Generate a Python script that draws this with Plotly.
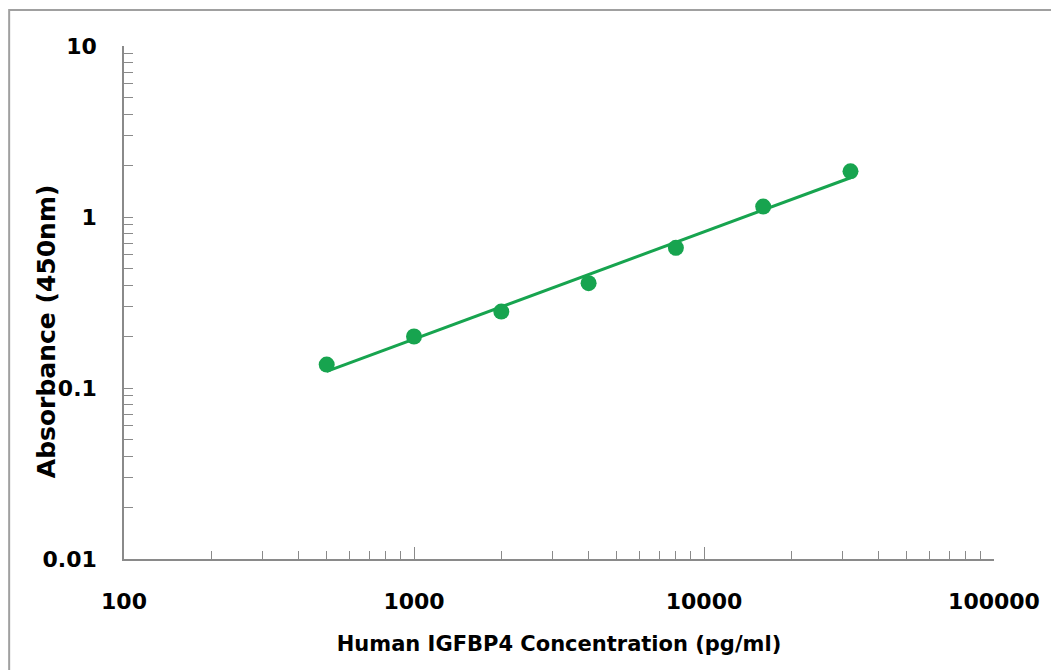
import numpy as np
import plotly.graph_objects as go

conc = [500, 1000, 2000, 4000, 8000, 16000, 32000]
absorb = [0.137, 0.200, 0.280, 0.410, 0.660, 1.150, 1.850]

x_title = "Human IGFBP4 Concentration (pg/ml)"
y_title = "Absorbance (450nm)"
x_ticks = [100, 1000, 10000, 100000]
x_ticklabels = ["100", "1000", "10000", "100000"]
y_ticks = [0.01, 0.1, 1, 10]
y_ticklabels = ["0.01", "0.1", "1", "10"]
minor_mult = [2, 3, 4, 5, 6, 7, 8, 9]
x_minor = [d * m for d in [100, 1000, 10000] for m in minor_mult]
y_minor = [d * m for d in [0.01, 0.1, 1] for m in minor_mult]

green = "#17A44F"
axis_gray = "#8A8A8A"
font_family = "DejaVu Sans"

# power-law (log-log linear) trend line fitted to the data
lx = np.log10(conc)
ly = np.log10(absorb)
slope, intercept = np.polyfit(lx, ly, 1)
fit_x = np.array([conc[0], conc[-1]])
fit_y = 10 ** (intercept + slope * np.log10(fit_x))

fig = go.Figure()
fig.add_trace(go.Scatter(x=fit_x, y=fit_y, mode="lines",
                         line=dict(color=green, width=3), showlegend=False))
fig.add_trace(go.Scatter(x=conc, y=absorb, mode="markers",
                         marker=dict(color=green, size=16), showlegend=False))

tickfont = dict(family=font_family, size=22, color="black", weight="bold")

fig.update_layout(
    width=1059, height=670,
    margin=dict(l=116, r=73, t=38, b=119, autoexpand=False),
    paper_bgcolor="white", plot_bgcolor="white",
    xaxis=dict(type="log", range=[2, 5], tickvals=x_ticks, ticktext=x_ticklabels,
               showgrid=False, zeroline=False, showline=True, linecolor=axis_gray, linewidth=1.5,
               ticks="inside", ticklen=12, tickcolor=axis_gray, tickwidth=1.2,
               ticklabelstandoff=22,
               minor=dict(tickmode="array", tickvals=x_minor, ticks="inside", ticklen=8,
                          tickcolor=axis_gray, tickwidth=1, showgrid=False),
               tickfont=tickfont,
               title=dict(text=x_title, font=dict(family=font_family, size=21, color="black", weight="bold"),
                          standoff=23)),
    yaxis=dict(type="log", range=[-2, 1], tickvals=y_ticks, ticktext=y_ticklabels,
               showgrid=False, zeroline=False, showline=True, linecolor=axis_gray, linewidth=1.5,
               ticks="inside", ticklen=9, tickcolor=axis_gray, tickwidth=1.2,
               ticklabelstandoff=21,
               minor=dict(tickmode="array", tickvals=y_minor, ticks="inside", ticklen=9,
                          tickcolor=axis_gray, tickwidth=1, showgrid=False),
               tickfont=tickfont),
    annotations=[dict(text=y_title, xref="paper", yref="paper", x=-0.0897, y=0.444,
                      xanchor="center", yanchor="middle", textangle=-90, showarrow=False,
                      font=dict(family=font_family, size=25, color="black", weight="bold"))],
    shapes=[dict(type="rect", xref="paper", yref="paper",
                 x0=-0.132, x1=1.2, y0=-0.3, y1=1.070,
                 line=dict(color="#A0A0A0", width=2), fillcolor="rgba(0,0,0,0)",
                 layer="below")],
)

fig.write_html("out.html")
